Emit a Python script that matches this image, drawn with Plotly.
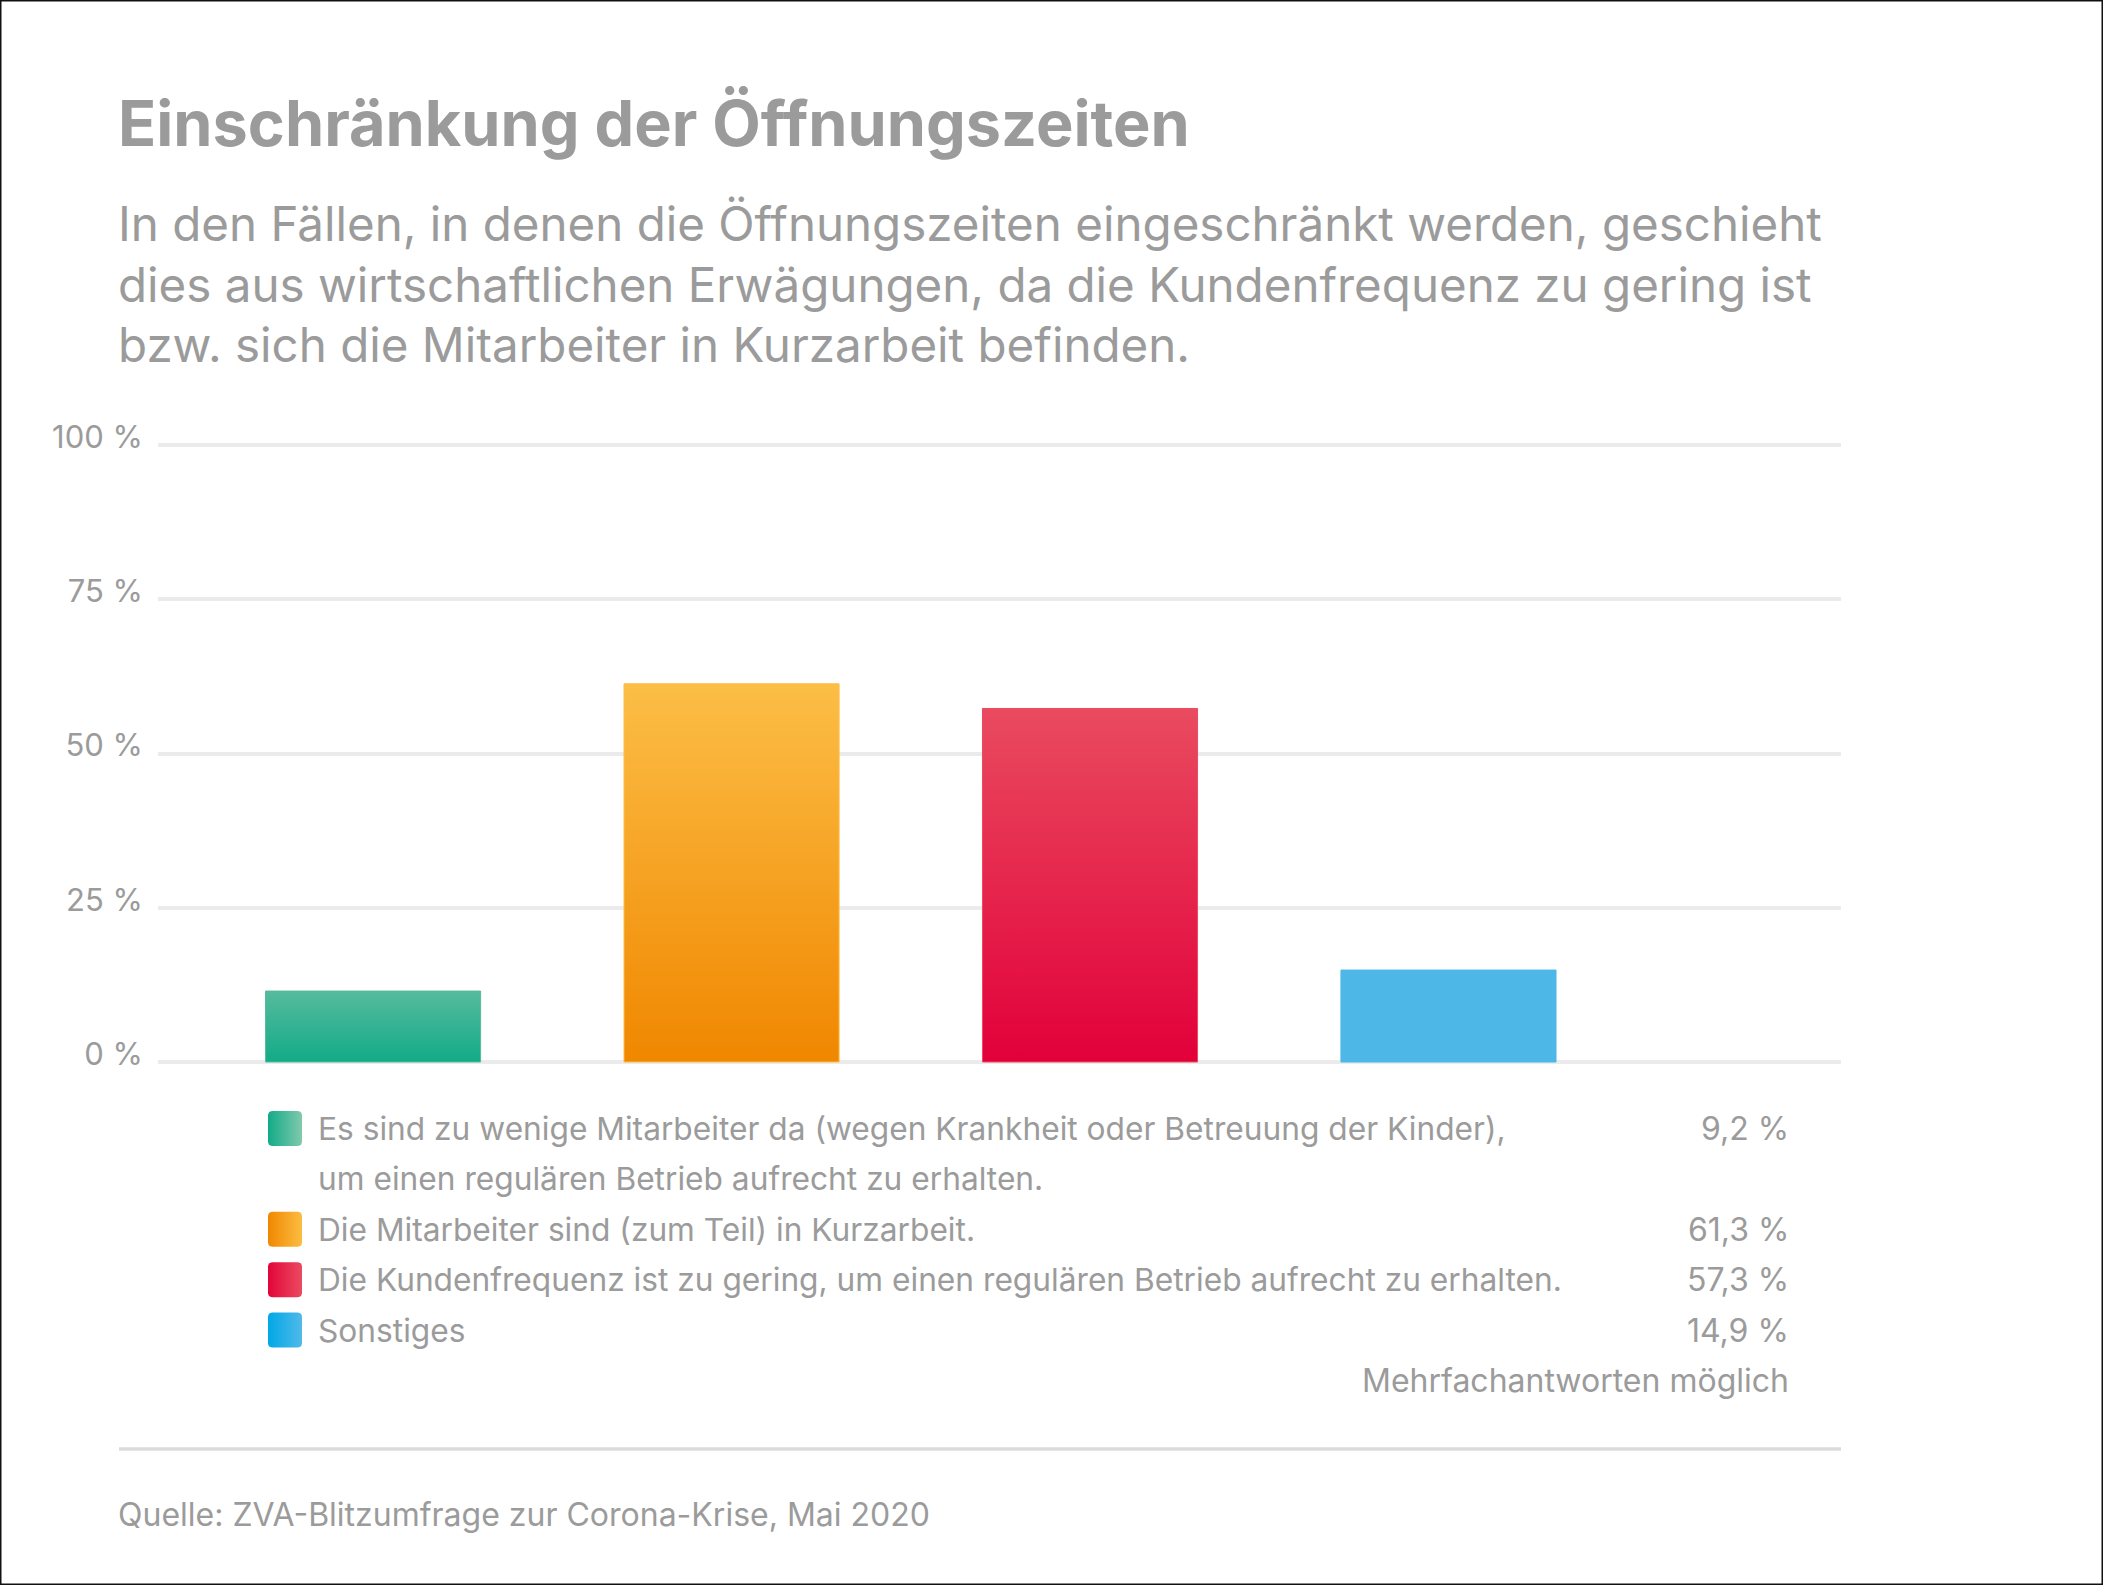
import numpy as np
import plotly.graph_objects as go

W, H = 2103, 1585

# ---------------- data ----------------
title = "Einschränkung der Öffnungszeiten"
subtitle_lines = [
    "In den Fällen, in denen die Öffnungszeiten eingeschränkt werden, geschieht",
    "dies aus wirtschaftlichen Erwägungen, da die Kundenfrequenz zu gering ist",
    "bzw. sich die Mitarbeiter in Kurzarbeit befinden.",
]
category_lines = [
    ["Es sind zu wenige Mitarbeiter da (wegen Krankheit oder Betreuung der Kinder),",
     "um einen regulären Betrieb aufrecht zu erhalten."],
    ["Die Mitarbeiter sind (zum Teil) in Kurzarbeit."],
    ["Die Kundenfrequenz ist zu gering, um einen regulären Betrieb aufrecht zu erhalten."],
    ["Sonstiges"],
]
# bar heights as drawn in the picture (first bar is drawn taller than its label)
bar_values = [11.5, 61.3, 57.3, 14.9]
value_labels = ["9,2 %", "61,3 %", "57,3 %", "14,9 %"]
note = "Mehrfachantworten möglich"
source = "Quelle: ZVA-Blitzumfrage zur Corona-Krise, Mai 2020"
y_tickvals = [0, 25, 50, 75, 100]
y_ticktext = ["0 %", "25 %", "50 %", "75 %", "100 %"]

bar_top = ["#56bb9d", "#fcbe46", "#e94b5f", "#4db8e8"]
bar_bottom = ["#12ab87", "#f08700", "#e2003a", "#4db8e8"]
key_left = ["#12ab87", "#f08800", "#e2053a", "#00a8e6"]
key_right = ["#80c9ad", "#fbbd42", "#eb4b60", "#50b9e9"]

TEXT = "#9b9b9b"
FONT = "Inter"

# ---------------- layout helpers ----------------
def fx(px):
    return px / W

def fy(py):
    return 1 - py / H

fig = go.Figure()

# main bars (vertical gradient)
bw = 0.6
for i, v in enumerate(bar_values):
    fig.add_trace(go.Scatter(
        x=[i - bw / 2, i + bw / 2, i + bw / 2, i - bw / 2, i - bw / 2],
        y=[0, 0, v, v, 0],
        mode="lines", fill="toself",
        line=dict(width=1, color=bar_top[i]),
        fillgradient=dict(type="vertical",
                          colorscale=[[0, bar_bottom[i]], [1, bar_top[i]]]),
        hoverinfo="skip", showlegend=False,
        xaxis="x", yaxis="y",
    ))

# legend keys (rounded squares with horizontal gradient) on a pixel overlay axis
def rounded_rect(x0, y0, x1, y1, r):
    xs, ys = [], []
    corners = [(x1 - r, y0 + r, -90, 0), (x1 - r, y1 - r, 0, 90),
               (x0 + r, y1 - r, 90, 180), (x0 + r, y0 + r, 180, 270)]
    for cx, cy, a0, a1 in corners:
        t = np.radians(np.linspace(a0, a1, 6))
        xs += list(cx + r * np.cos(t))
        ys += list(cy + r * np.sin(t))
    xs.append(xs[0]); ys.append(ys[0])
    return xs, ys

row0, row_step = 1128.5, 50.4
rows = []
r = 0
for lines in category_lines:
    rows.append(r)
    r += len(lines)
note_row = r

for i, lines in enumerate(category_lines):
    yc = row0 + row_step * rows[i]
    xs, ys = rounded_rect(268, yc - 17.5, 302, yc + 17.5, 4)
    fig.add_trace(go.Scatter(
        x=xs, y=ys, mode="lines", fill="toself", line=dict(width=0),
        fillgradient=dict(type="horizontal",
                          colorscale=[[0, key_left[i]], [1, key_right[i]]]),
        hoverinfo="skip", showlegend=False, xaxis="x2", yaxis="y2",
    ))

LEG = 32
LEFT = 116
ann = []
ann.append(dict(text=title, x=fx(LEFT), y=fy(123), xanchor="left", yanchor="middle",
                font=dict(family=FONT, size=63, color=TEXT, weight=700)))
for k, line in enumerate(subtitle_lines):
    ann.append(dict(text=line, x=fx(LEFT), y=fy(224 + 60.4 * k), xanchor="left",
                    yanchor="middle", font=dict(family=FONT, size=47.5, color=TEXT)))
for i, lines in enumerate(category_lines):
    for j, line in enumerate(lines):
        yc = row0 + row_step * (rows[i] + j)
        ann.append(dict(text=line, x=fx(316), y=fy(yc), xanchor="left", yanchor="middle",
                        font=dict(family=FONT, size=31.7, color=TEXT)))
    ann.append(dict(text=value_labels[i], x=fx(1791), y=fy(row0 + row_step * rows[i]),
                    xanchor="right", yanchor="middle",
                    font=dict(family=FONT, size=LEG, color=TEXT)))
ann.append(dict(text=note, x=fx(1791), y=fy(row0 + row_step * note_row), xanchor="right",
                yanchor="middle", font=dict(family=FONT, size=LEG, color=TEXT)))
ann.append(dict(text=source, x=fx(LEFT), y=fy(1514), xanchor="left", yanchor="middle",
                font=dict(family=FONT, size=LEG, color=TEXT)))
for a in ann:
    a.update(xref="paper", yref="paper", showarrow=False)

ppu = (1062 - 445) / 100.0
ymin, ymax = -2, 102
plot_bottom = 1062 - ymin * ppu
plot_top = 445 - (ymax - 100) * ppu

fig.update_layout(
    width=W, height=H,
    margin=dict(l=0, r=0, t=0, b=0, autoexpand=False),
    paper_bgcolor="white", plot_bgcolor="rgba(0,0,0,0)",
    showlegend=False,
    xaxis=dict(domain=[fx(158), fx(1841)], range=[-0.6, 4.095], showgrid=False,
               zeroline=False, showticklabels=False, showline=False, fixedrange=True,
               automargin=False),
    yaxis=dict(domain=[fy(plot_bottom), fy(plot_top)], range=[ymin, ymax],
               tickvals=y_tickvals, ticktext=y_ticktext, showgrid=True,
               gridcolor="#ebebeb", gridwidth=3.5, zeroline=False, showline=False,
               ticks="", ticklabelstandoff=14, ticklabelshift=-8, automargin=False,
               tickfont=dict(family=FONT, size=31, color=TEXT), fixedrange=True),
    xaxis2=dict(domain=[0, 1], range=[0, W], visible=False, anchor="y2", fixedrange=True),
    yaxis2=dict(domain=[0, 1], range=[H, 0], visible=False, anchor="x2", fixedrange=True),
    annotations=ann,
    shapes=[
        dict(type="line", xref="paper", yref="paper", x0=fx(119), x1=fx(1841),
             y0=fy(1449), y1=fy(1449), line=dict(color="#dcdcdc", width=3.5)),
        dict(type="rect", xref="paper", yref="paper", x0=0, x1=1, y0=0, y1=1,
             line=dict(color="#111111", width=3), layer="above"),
    ],
)

fig.write_html(
    "out.html",
    config={"displayModeBar": False},
    post_script="document.body.style.margin='0';document.body.style.overflow='hidden';",
)
